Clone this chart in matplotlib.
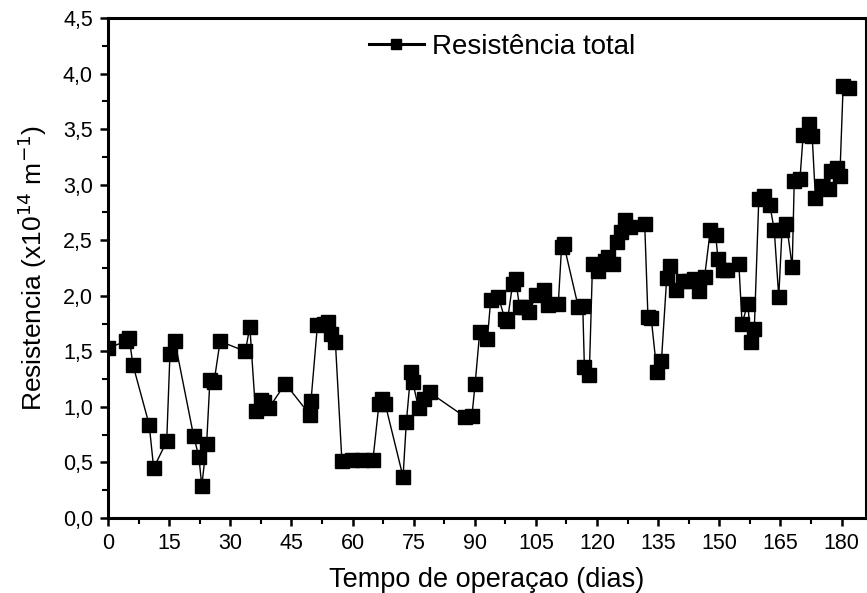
import matplotlib
matplotlib.use("Agg")
import matplotlib.pyplot as plt
from matplotlib.ticker import MultipleLocator, FuncFormatter

plt.rcParams['font.family'] = ['Liberation Sans', 'DejaVu Sans']

# dias de operacao
dias = [0, 4.4, 5.2, 6.1, 10.1, 11.2, 14.4, 15.2, 16.4, 21.0, 22.3, 23.0, 24.2, 25.0, 26.0,
        27.5, 33.7, 34.8, 36.2, 37.5, 38.2, 39.5, 43.5, 49.5, 49.8, 51.4, 53.1, 54.0, 54.6,
        55.8, 57.4, 59.9, 62.3, 65.0, 66.5, 67.2, 68.0, 72.4, 73.2, 74.3, 74.8, 76.2, 77.6,
        78.9, 87.6, 89.3, 90.1, 91.2, 93.1, 93.9, 95.8, 97.4, 98.0, 99.3, 100.0, 101.0,
        102.0, 103.4, 105.0, 107.0, 108.0, 110.5, 111.3, 111.8, 115.4, 116.5, 116.9, 118.1,
        118.9, 120.3, 121.9, 122.7, 123.8, 124.9, 126.0, 126.8, 128.2, 131.7, 132.5, 133.3,
        134.7, 135.8, 137.1, 138.0, 139.3, 141.0, 142.6, 143.9, 145.0, 146.4, 147.8, 149.1,
        149.7, 151.0, 152.0, 154.8, 155.6, 157.0, 157.8, 158.6, 159.7, 161.1, 162.4, 163.5,
        164.6, 165.4, 166.5, 167.9, 168.4, 169.8, 170.6, 172.0, 172.8, 173.6, 175.2, 176.9,
        177.4, 178.8, 179.6, 180.4, 181.8]

# resistencia total (x10^14 m^-1)
resistencia = [1.53, 1.59, 1.62, 1.38, 0.84, 0.45, 0.69, 1.48, 1.59, 0.74, 0.55, 0.29, 0.67,
               1.24, 1.22, 1.59, 1.50, 1.72, 0.96, 1.06, 1.04, 0.99, 1.21, 0.93, 1.05, 1.74,
               1.75, 1.76, 1.66, 1.58, 0.51, 0.52, 0.52, 0.52, 1.03, 1.07, 1.03, 0.37, 0.86,
               1.31, 1.22, 0.99, 1.07, 1.13, 0.91, 0.92, 1.21, 1.67, 1.61, 1.96, 1.99, 1.79,
               1.77, 2.11, 2.15, 1.90, 1.90, 1.85, 2.01, 2.05, 1.92, 1.93, 2.44, 2.47, 1.90,
               1.91, 1.36, 1.29, 2.29, 2.22, 2.31, 2.35, 2.29, 2.48, 2.57, 2.68, 2.62, 2.65,
               1.81, 1.80, 1.31, 1.41, 2.16, 2.27, 2.05, 2.13, 2.13, 2.15, 2.04, 2.17, 2.59,
               2.55, 2.33, 2.23, 2.23, 2.29, 1.75, 1.93, 1.58, 1.70, 2.87, 2.90, 2.82, 2.59,
               1.99, 2.59, 2.65, 2.26, 3.03, 3.05, 3.45, 3.55, 3.44, 2.88, 2.99, 2.96, 3.12,
               3.15, 3.08, 3.89, 3.87]

fig = plt.figure(figsize=(8.67, 5.93), dpi=100)
ax = fig.add_axes([0.1246, 0.1265, 0.8742, 0.8431])

ax.plot(dias, resistencia, color='black', linewidth=1.0, marker='s', markersize=10,
        markerfacecolor='black', markeredgecolor='black', label='Resistência total')

ax.set_xlim(0, 186)
ax.set_ylim(0, 4.5)
ax.xaxis.set_major_locator(MultipleLocator(15))
ax.xaxis.set_minor_locator(MultipleLocator(7.5))
ax.yaxis.set_major_locator(MultipleLocator(0.5))
ax.yaxis.set_minor_locator(MultipleLocator(0.25))
ax.yaxis.set_major_formatter(FuncFormatter(lambda v, p: f"{v:.1f}".replace('.', ',')))

ax.tick_params(which='major', direction='out', length=6, width=1.8, labelsize=15.5, pad=5)
ax.tick_params(which='minor', direction='out', length=4, width=1.5)
for s in ax.spines.values():
    s.set_linewidth(2.2)

ax.set_xlabel('Tempo de operaçao (dias)', fontsize=19.5, labelpad=9)
ax.set_ylabel('Resistencia (x10$^{14}$ m$^{-1}$)', fontsize=19, labelpad=10)

leg = ax.legend(loc='center', bbox_to_anchor=(0.52, 0.942), frameon=False, fontsize=20,
                handlelength=2.0, handletextpad=0.3, markerscale=0.75)
leg.get_lines()[0].set_linewidth(2.2)

fig.savefig('out.png', dpi=100)
